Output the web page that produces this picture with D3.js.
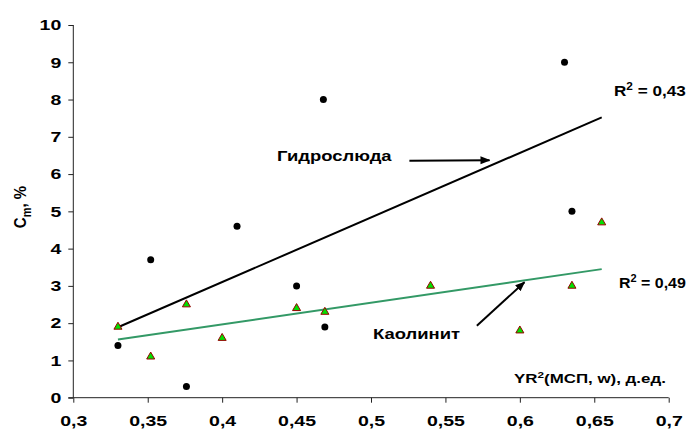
<!DOCTYPE html>
<html>
<head>
<meta charset="utf-8">
<script src="https://cdn.jsdelivr.net/npm/d3@7"></script>
<style>
  body { margin: 0; background: #fff; }
  svg { display: block; font-family: "Liberation Sans", Arial, sans-serif; font-weight: bold; }
</style>
</head>
<body>
<svg id="chart" width="696" height="433"></svg>
<script>
// Гидрослюда (black dots)
var hydroX = [0.33, 0.352, 0.376, 0.41, 0.45, 0.468, 0.469, 0.63, 0.635];
var hydroY = [1.4, 3.7, 0.3, 4.6, 3.0, 8.0, 1.9, 9.0, 5.0];

// Каолинит (green triangles)
var kaolX = [0.33, 0.352, 0.376, 0.40, 0.45, 0.469, 0.54, 0.60, 0.635, 0.655];
var kaolY = [1.9, 1.1, 2.5, 1.6, 2.4, 2.3, 3.0, 1.8, 3.0, 4.7];

// trend lines (end points)
var hydroTrendX = [0.33, 0.655];
var hydroTrendY = [1.89, 7.52];
var kaolTrendX = [0.33, 0.655];
var kaolTrendY = [1.56, 3.45];

var xTicks = [0.3, 0.35, 0.4, 0.45, 0.5, 0.55, 0.6, 0.65, 0.7];
var yTicks = [0, 1, 2, 3, 4, 5, 6, 7, 8, 9, 10];

var svg = d3.select("#chart");

var x = d3.scaleLinear().domain([0.3, 0.7]).range([73.3, 668.7]);
var y = d3.scaleLinear().domain([0, 10]).range([397.7, 25]);

var comma = function(d) { return String(d).replace(".", ","); };

// text in the original is stretched sideways
function stretch(sel, k) {
  sel.each(function() {
    var len = this.getComputedTextLength();
    d3.select(this).attr("textLength", len * k).attr("lengthAdjust", "spacingAndGlyphs");
  });
}

// axes
var xAxis = svg.append("g")
  .attr("transform", "translate(0," + y(0) + ")")
  .call(d3.axisBottom(x).tickValues(xTicks).tickFormat(comma).tickSize(5).tickPadding(13));

var yAxis = svg.append("g")
  .attr("transform", "translate(" + x(0.3) + ",0)")
  .call(d3.axisLeft(y).tickValues(yTicks).tickFormat(d3.format("d")).tickSize(5).tickPadding(7));

[xAxis, yAxis].forEach(function(a) {
  a.select(".domain").remove();
  a.selectAll("line").attr("stroke", "#222").attr("stroke-width", 1);
  a.selectAll("text").attr("fill", "#000").style("font-size", "15px").style("font-weight", "bold")
    .style("font-family", "Liberation Sans, Arial, sans-serif")
    .call(stretch, 1.3);
});
svg.append("line")
  .attr("x1", x(0.3) - 5).attr("x2", x(0.7))
  .attr("y1", y(0)).attr("y2", y(0))
  .attr("stroke", "#222");
svg.append("line")
  .attr("x1", x(0.3)).attr("x2", x(0.3))
  .attr("y1", y(0)).attr("y2", y(10))
  .attr("stroke", "#222");

// trend lines
var line = d3.line().x(function(d) { return x(d[0]); }).y(function(d) { return y(d[1]); });

svg.append("path")
  .attr("d", line(d3.zip(hydroTrendX, hydroTrendY)))
  .attr("stroke", "#000").attr("stroke-width", 2).attr("fill", "none");

svg.append("path")
  .attr("d", line(d3.zip(kaolTrendX, kaolTrendY)))
  .attr("stroke", "#339966").attr("stroke-width", 2).attr("fill", "none");

// points
svg.append("g").selectAll("circle")
  .data(d3.zip(hydroX, hydroY))
  .enter()
    .append("circle")
    .attr("cx", function(d) { return x(d[0]); })
    .attr("cy", function(d) { return y(d[1]); })
    .attr("r", 3.5)
    .attr("fill", "#000");

svg.append("g").selectAll("path")
  .data(d3.zip(kaolX, kaolY))
  .enter()
    .append("path")
    .attr("d", d3.symbol(d3.symbolTriangle, 28))
    .attr("transform", function(d) { return "translate(" + x(d[0]) + "," + y(d[1]) + ")"; })
    .attr("fill", "#00e000")
    .attr("stroke", "#990000")
    .attr("stroke-width", 1);

// arrows
var defs = svg.append("defs");
defs.append("marker")
  .attr("id", "head")
  .attr("viewBox", "0 0 10 10")
  .attr("refX", 9).attr("refY", 5)
  .attr("markerWidth", 5).attr("markerHeight", 5)
  .attr("orient", "auto")
  .append("path").attr("d", "M0,1 L10,5 L0,9 Z").attr("fill", "#000");

var arrows = [
  [[0.5258, 6.36], [0.5796, 6.37]],
  [[0.5711, 1.93], [0.6031, 3.10]]
];
svg.append("g").selectAll("path")
  .data(arrows)
  .enter()
    .append("path")
    .attr("d", line)
    .attr("stroke", "#000").attr("stroke-width", 2).attr("fill", "none")
    .attr("marker-end", "url(#head)");

// labels
function label(t, px, py, size) {
  return svg.append("text").attr("x", px).attr("y", py).style("font-size", size + "px").attr("fill", "#000").text(t);
}
label("Гидрослюда", 277, 161, 14.5).call(stretch, 1.27);
label("Каолинит", 373, 339, 14.5).call(stretch, 1.27);

var r1 = svg.append("text").attr("x", 614).attr("y", 96).style("font-size", "14.5px");
r1.append("tspan").text("R");
r1.append("tspan").attr("dy", -6).style("font-size", "10px").text("2");
r1.append("tspan").attr("dy", 6).text(" = 0,43");
r1.call(stretch, 1.18);

var r2 = svg.append("text").attr("x", 619).attr("y", 288).style("font-size", "14.5px");
r2.append("tspan").text("R");
r2.append("tspan").attr("dy", -6).style("font-size", "10px").text("2");
r2.append("tspan").attr("dy", 6).text(" = 0,49");
r2.call(stretch, 1.1);

var xt = svg.append("text").attr("x", 514).attr("y", 383).style("font-size", "13px");
xt.append("tspan").text("YR");
xt.append("tspan").attr("dy", -5).style("font-size", "9px").text("2");
xt.append("tspan").attr("dy", 5).text("(МСП, w), д.ед.");
xt.call(stretch, 1.3);

var yt = svg.append("text").attr("transform", "translate(26,207) rotate(-90) scale(1,1.15)")
  .attr("text-anchor", "middle").style("font-size", "15px");
yt.append("tspan").text("C");
yt.append("tspan").attr("dy", 4).style("font-size", "11px").text("m");
yt.append("tspan").attr("dy", -4).text(", %");
</script>
</body>
</html>
